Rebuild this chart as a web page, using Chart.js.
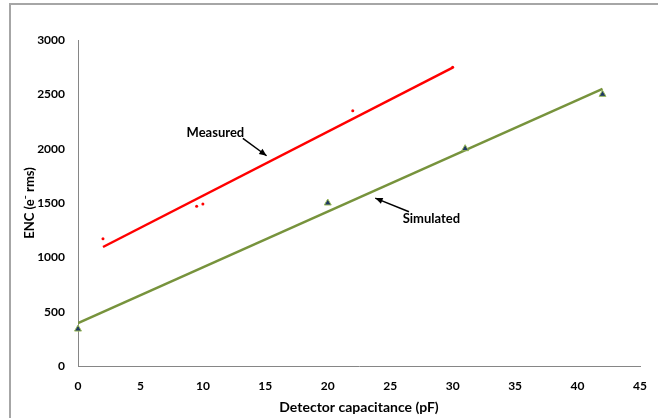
<!DOCTYPE html>
<html>
<head>
<meta charset="utf-8">
<script src="https://cdn.jsdelivr.net/npm/chart.js@4.4.1/dist/chart.umd.min.js"></script>
<style>
  html, body { margin: 0; padding: 0; background: #fff; overflow: hidden; }
</style>
</head>
<body>
<canvas id="chart" width="658" height="418"></canvas>
<script>
// ==================== DATOS ====================
const measuredX = [2, 9.5, 10, 22, 30];
const measuredY = [1170, 1470, 1490, 2350, 2750];
const measuredFitX = [2, 30];
const measuredFitY = [1095, 2745];

const simulatedX = [0, 20, 31, 42];
const simulatedY = [340, 1500, 2000, 2500];
const simulatedFitX = [0, 42];
const simulatedFitY = [395, 2550];

const xTicks = [0, 5, 10, 15, 20, 25, 30, 35, 40, 45];
const yTicks = [0, 500, 1000, 1500, 2000, 2500, 3000];

// etiquetas con flecha (coordenadas en unidades de datos)
const labels = [
  { text: 'Measured', x: 11.0, y: 2150, from: [13.2, 2095], to: [15.1, 1935] },
  { text: 'Simulated', x: 28.3, y: 1350, from: [26.5, 1420], to: [23.8, 1545] }
];

const pts = (xs, ys) => xs.map((x, i) => ({ x, y: ys[i] }));
const FONT = 'Lato, "Liberation Sans", sans-serif';

// ==================== MARCO ====================
const frame = {
  id: 'frame',
  beforeDraw(chart) {
    const { ctx } = chart;
    ctx.save();
    ctx.fillStyle = '#fff';
    ctx.fillRect(0, 0, chart.width, chart.height);
    ctx.strokeStyle = '#a6a6a6';
    ctx.lineWidth = 2;
    ctx.beginPath();
    ctx.moveTo(10, chart.height);
    ctx.lineTo(10, 4);
    ctx.lineTo(chart.width, 4);
    ctx.stroke();
    ctx.restore();
  }
};

// ==================== PLUGIN ANOTACIONES ====================
const arrowLabels = {
  id: 'arrowLabels',
  afterDatasetsDraw(chart) {
    const { ctx, scales: { x, y } } = chart;
    ctx.save();
    ctx.font = 'bold 13px ' + FONT;
    ctx.fillStyle = '#000';
    ctx.textAlign = 'center';
    ctx.textBaseline = 'middle';
    labels.forEach(l => {
      ctx.fillText(l.text, x.getPixelForValue(l.x), y.getPixelForValue(l.y));
      const x1 = x.getPixelForValue(l.from[0]), y1 = y.getPixelForValue(l.from[1]);
      const x2 = x.getPixelForValue(l.to[0]), y2 = y.getPixelForValue(l.to[1]);
      ctx.strokeStyle = '#000';
      ctx.lineWidth = 1.5;
      ctx.beginPath();
      ctx.moveTo(x1, y1);
      ctx.lineTo(x2, y2);
      ctx.stroke();
      const a = Math.atan2(y2 - y1, x2 - x1);
      ctx.beginPath();
      ctx.moveTo(x2, y2);
      ctx.lineTo(x2 - 8 * Math.cos(a - 0.4), y2 - 8 * Math.sin(a - 0.4));
      ctx.lineTo(x2 - 8 * Math.cos(a + 0.4), y2 - 8 * Math.sin(a + 0.4));
      ctx.closePath();
      ctx.fill();
    });
    ctx.restore();
  }
};

// ==================== GRÁFICO ====================
new Chart(document.getElementById('chart'), {
  type: 'scatter',
  data: {
    datasets: [
      {
        data: pts(measuredFitX, measuredFitY),
        showLine: true, borderColor: '#ff0000', borderWidth: 2.5,
        pointRadius: 0, order: 2
      },
      {
        data: pts(simulatedFitX, simulatedFitY),
        showLine: true, borderColor: '#77933c', borderWidth: 2.5,
        pointRadius: 0, order: 2
      },
      {
        data: pts(measuredX, measuredY),
        pointStyle: 'circle', pointRadius: 1.5,
        backgroundColor: '#ff0000', borderColor: '#ff0000', borderWidth: 0, order: 1
      },
      {
        data: pts(simulatedX, simulatedY),
        pointStyle: 'triangle', pointRadius: 4, clip: false,
        backgroundColor: '#1f3864', borderColor: '#9bbb59', borderWidth: 1, order: 1
      }
    ]
  },
  options: {
    responsive: false,
    animation: false,
    layout: { padding: { left: 22, right: 18, top: 40, bottom: 0 } },
    plugins: { legend: { display: false }, tooltip: { enabled: false } },
    scales: {
      x: {
        type: 'linear', min: 0, max: 45,
        afterBuildTicks: s => { s.ticks = xTicks.map(v => ({ value: v })); },
        afterFit: s => { s.height = 52; },
        grid: { display: false, drawTicks: true, tickLength: 5, tickColor: '#868686' },
        border: { display: true, color: '#868686', width: 1 },
        ticks: { color: '#000', padding: 8, callback: v => String(v),
                 font: { family: FONT, size: 12, weight: 'bold' } },
        title: { display: true, text: 'Detector capacitance (pF)', color: '#000', padding: { top: 0, bottom: 2 },
                 font: { family: FONT, size: 14, weight: 'bold' } }
      },
      y: {
        type: 'linear', min: 0, max: 3000,
        afterBuildTicks: s => { s.ticks = yTicks.map(v => ({ value: v })); },
        afterFit: s => { s.width = 56; },
        grid: { display: false, drawTicks: true, tickLength: 5, tickColor: '#868686' },
        border: { display: true, color: '#868686', width: 1 },
        ticks: { color: '#000', padding: 8, callback: v => String(v),
                 font: { family: FONT, size: 12, weight: 'bold' } },
        title: { display: true, text: 'ENC (e\u207B rms)', color: '#000', padding: { top: 0, bottom: 0 },
                 font: { family: FONT, size: 13, weight: 'bold' } }
      }
    }
  },
  plugins: [frame, arrowLabels]
});
</script>
</body>
</html>
